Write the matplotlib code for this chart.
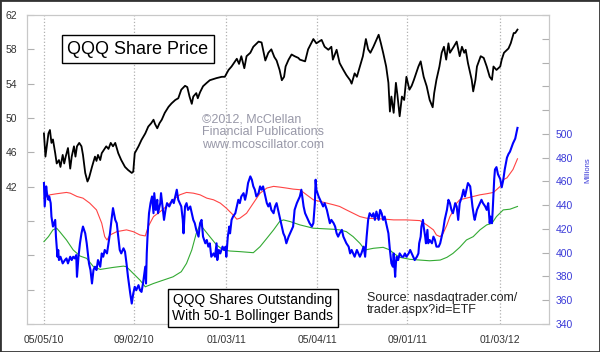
import matplotlib
matplotlib.use("Agg")
import matplotlib.pyplot as plt
import matplotlib.dates as mdates
import pandas as pd

plt.rcParams["font.family"] = ["Liberation Sans", "DejaVu Sans"]

start = pd.Timestamp("2010-05-05")

# QQQ share price (days after 05/05/10, price)
price_days = [0, 2, 6, 8, 10, 12, 15, 17, 20, 22,
              25, 27, 29, 32, 35, 37, 40, 42, 44, 47,
              50, 52, 55, 58, 60, 64, 68, 70, 72, 75,
              77, 80, 83, 86, 89, 92, 95, 99, 103, 108,
              112, 117, 119, 121, 126, 130, 135, 139, 143, 146,
              148, 151, 154, 157, 161, 166, 170, 175, 179, 183,
              188, 191, 194, 197, 199, 203, 205, 208, 212, 217,
              221, 230, 237, 241, 246, 250, 257, 260, 263, 267,
              270, 275, 279, 286, 290, 295, 299, 303, 307, 310,
              314, 317, 320, 322, 326, 330, 334, 339, 341, 348,
              352, 359, 363, 370, 374, 379, 383, 385, 390, 394,
              399, 403, 408, 410, 414, 417, 421, 425, 429, 432,
              435, 439, 446, 449, 452, 456, 459, 461, 463, 466,
              469, 471, 474, 477, 480, 483, 487, 490, 493, 499,
              502, 506, 510, 514, 518, 520, 523, 527, 530, 533,
              536, 539, 541, 546, 550, 554, 557, 560, 562, 565,
              568, 570, 572, 575, 577, 582, 586, 590, 594, 597,
              599, 603, 608, 610, 613, 619, 622, 626, 628, 631]
price = [48.2, 45.5, 48.2, 48.6, 47.1, 47.5, 45.9, 44.7, 45.1, 44.3,
         45.7, 44.7, 45.5, 46.5, 44.1, 45.5, 46.7, 45.5, 46.7, 47.1,
         46.7, 45.7, 43.6, 42.6, 43.0, 44.3, 45.5, 45.0, 45.7, 45.1,
         45.9, 46.3, 46.7, 46.4, 47.1, 46.7, 47.1, 45.9, 45.1, 44.3,
         43.95, 43.6, 43.75, 45.9, 46.7, 47.45, 48.2, 49.0, 49.4, 49.8,
         49.3, 48.8, 49.4, 49.8, 50.6, 51.3, 51.7, 52.1, 52.3, 53.3,
         53.75, 53.6, 52.5, 51.65, 52.5, 52.9, 52.3, 53.0, 53.7, 54.1,
         54.4, 54.65, 54.8, 54.8, 55.6, 56.0, 56.9, 56.3, 57.2, 55.8,
         57.2, 57.6, 58.3, 58.9, 58.8, 56.7, 57.6, 58.0, 57.1, 56.7,
         55.6, 54.4, 54.8, 56.0, 56.8, 57.4, 57.2, 57.0, 56.8, 56.6,
         58.0, 59.2, 58.7, 59.1, 58.3, 57.95, 58.3, 56.8, 57.95, 56.4,
         55.6, 55.0, 54.4, 54.0, 55.2, 54.8, 56.0, 57.2, 59.2, 58.0,
         57.6, 58.3, 59.7, 58.7, 57.6, 56.0, 54.1, 50.75, 52.5, 50.6,
         54.1, 52.7, 50.2, 52.5, 52.1, 54.8, 53.3, 53.75, 54.45, 56.0,
         56.6, 54.8, 53.7, 52.1, 51.25, 52.9, 54.45, 56.0, 57.6, 58.3,
         56.8, 58.7, 57.6, 58.3, 58.9, 57.2, 58.3, 57.6, 57.95, 56.4,
         55.2, 54.45, 53.1, 54.45, 56.0, 57.2, 57.0, 56.0, 54.8, 54.45,
         56.0, 55.6, 56.0, 56.8, 57.6, 58.1, 58.7, 59.9, 59.9, 60.3]

# QQQ shares outstanding, millions
shares_days = [0, 1, 3, 4, 6, 7, 9, 10, 12, 15,
               16, 18, 19, 20, 22, 25, 28, 30, 32, 35,
               37, 39, 41, 43, 44, 46, 48, 50, 52, 55,
               57, 58, 60, 62, 64, 66, 68, 70, 72, 75,
               77, 79, 81, 84, 86, 88, 90, 92, 95, 97,
               99, 101, 103, 106, 108, 110, 112, 115, 117, 119,
               121, 123, 126, 128, 130, 132, 135, 136, 137, 138,
               140, 142, 144, 146, 147, 149, 151, 152, 155, 156,
               158, 160, 162, 164, 167, 169, 171, 173, 175, 177,
               179, 181, 183, 185, 186, 188, 190, 192, 195, 197,
               199, 201, 203, 206, 208, 210, 212, 215, 217, 219,
               221, 223, 226, 228, 230, 231, 233, 235, 238, 240,
               242, 243, 245, 247, 248, 250, 252, 255, 257, 259,
               261, 263, 266, 268, 270, 272, 275, 277, 279, 281,
               283, 286, 288, 290, 292, 295, 297, 299, 301, 303,
               306, 308, 310, 312, 314, 317, 319, 321, 323, 326,
               328, 330, 332, 334, 337, 339, 341, 343, 346, 348,
               350, 352, 354, 357, 359, 361, 362, 363, 366, 368,
               370, 372, 374, 377, 379, 381, 383, 386, 388, 390,
               392, 394, 397, 399, 401, 403, 406, 408, 410, 412,
               414, 417, 419, 421, 423, 426, 428, 430, 432, 434,
               437, 439, 441, 443, 446, 448, 450, 452, 454, 457,
               459, 461, 463, 465, 466, 468, 469, 470, 472, 474,
               477, 479, 481, 483, 486, 488, 490, 492, 494, 497,
               499, 500, 502, 503, 505, 506, 508, 509, 511, 512,
               514, 517, 519, 521, 523, 526, 528, 530, 532, 534,
               537, 539, 541, 543, 545, 548, 550, 552, 554, 557,
               559, 561, 563, 565, 568, 569, 571, 573, 574, 577,
               579, 581, 583, 585, 588, 590, 592, 594, 595, 597,
               598, 600, 601, 603, 605, 608, 610, 612, 614, 617,
               619, 621, 625, 628, 630, 631]
shares = [458.6, 438.9, 455.8, 450.1, 444.5, 447.3, 441.7, 430.4, 422.0, 427.6,
          413.5, 396.6, 402.3, 393.8, 396.6, 391.0, 393.8, 395.2, 391.0, 396.6,
          393.8, 396.6, 395.2, 398.0, 379.7, 396.6, 407.9, 416.3, 422.0, 416.3,
          407.9, 402.3, 391.0, 385.4, 374.1, 385.4, 388.2, 385.4, 393.8, 388.2,
          399.4, 396.6, 402.3, 399.4, 407.9, 416.3, 427.6, 437.5, 427.6, 424.8,
          413.5, 402.3, 399.4, 403.7, 400.9, 391.0, 379.7, 365.6, 357.2, 365.6,
          371.3, 368.4, 372.7, 368.4, 367.0, 374.1, 388.2, 374.1, 399.4, 413.5,
          433.2, 441.7, 447.3, 433.2, 450.1, 436.0, 444.5, 433.2, 441.7, 450.1,
          438.9, 427.6, 436.0, 441.7, 438.9, 441.7, 444.5, 441.7, 447.3, 453.0,
          444.5, 441.7, 438.9, 427.6, 416.3, 438.9, 441.7, 436.0, 438.9, 433.2,
          427.6, 424.8, 419.2, 413.5, 424.8, 427.6, 413.5, 407.9, 410.7, 405.1,
          407.9, 396.6, 399.4, 396.6, 407.9, 393.8, 402.3, 399.4, 405.1, 402.3,
          405.1, 396.6, 413.5, 422.0, 416.3, 427.6, 430.4, 433.2, 438.9, 444.5,
          441.7, 447.3, 450.1, 444.5, 450.1, 458.6, 464.2, 461.4, 455.8, 453.0,
          447.3, 450.1, 455.8, 453.0, 455.8, 447.3, 441.7, 438.9, 441.7, 436.0,
          433.2, 438.9, 441.7, 436.0, 430.4, 422.0, 416.3, 413.5, 407.9, 413.5,
          416.3, 419.2, 422.0, 436.0, 441.7, 444.5, 447.3, 453.0, 438.9, 433.2,
          430.4, 427.6, 424.8, 422.0, 424.8, 441.7, 461.4, 453.0, 447.3, 444.5,
          441.7, 438.9, 441.7, 436.0, 430.4, 424.8, 427.6, 424.8, 422.0, 416.3,
          413.5, 416.3, 419.2, 413.5, 410.7, 407.9, 405.1, 399.4, 402.3, 399.4,
          396.6, 402.3, 399.4, 396.6, 399.4, 405.1, 396.6, 413.5, 427.6, 433.2,
          430.4, 433.2, 427.6, 434.6, 427.6, 436.0, 433.2, 427.6, 430.4, 422.0,
          416.3, 402.3, 391.0, 388.2, 399.4, 379.7, 391.0, 396.6, 393.8, 399.4,
          396.6, 396.6, 399.4, 396.6, 399.4, 402.3, 399.4, 396.6, 393.8, 396.6,
          399.4, 407.9, 413.5, 422.0, 427.6, 422.0, 413.5, 407.9, 419.2, 407.9,
          410.7, 407.9, 413.5, 410.7, 405.1, 405.1, 407.9, 413.5, 419.2, 427.6,
          436.0, 444.5, 441.7, 436.0, 433.2, 441.7, 438.9, 427.6, 441.7, 447.3,
          453.0, 447.3, 453.0, 458.6, 455.8, 450.1, 438.9, 430.4, 427.6, 436.0,
          438.9, 441.7, 444.5, 441.7, 438.9, 436.0, 441.7, 424.8, 430.4, 424.8,
          436.0, 462, 470, 472, 466, 462, 455, 461, 470, 480,
          483, 485, 492, 496, 502, 505]

# 50-1 Bollinger bands
upper_days = [0, 8, 17, 30, 35, 44, 52, 61, 70, 77,
              81, 84, 88, 97, 110, 119, 128, 135, 139, 146,
              155, 163, 172, 181, 190, 199, 208, 217, 226, 235,
              243, 252, 257, 261, 270, 279, 288, 297, 306, 314,
              323, 332, 341, 350, 359, 368, 377, 386, 394, 403,
              412, 421, 430, 448, 466, 483, 501, 510, 519, 523,
              528, 532, 537, 541, 546, 550, 554, 563, 572, 581,
              590, 599, 608, 612, 617, 625, 631]
upper = [445.9, 448.7, 449.6, 450.7, 450.1, 447.3, 445.9, 441.7, 436.0, 424.8,
         413.5, 410.7, 414.9, 417.7, 419.2, 417.7, 414.9, 414.1, 422.0, 430.4,
         434.6, 438.9, 444.5, 448.7, 450.7, 450.1, 448.7, 445.9, 444.5, 441.7,
         437.5, 431.8, 428.2, 429.0, 433.2, 441.7, 450.1, 454.4, 455.8, 455.2,
         454.4, 453.5, 453.0, 448.7, 444.5, 443.1, 441.7, 440.3, 438.9, 436.0,
         433.2, 430.4, 429.0, 428.5, 427.6, 427.6, 427.0, 423.4, 419.2, 414.9,
         413.5, 416.3, 423.4, 430.4, 436.0, 441.7, 444.5, 445.9, 447.3, 448.7,
         449.6, 450.7, 455.8, 461.4, 463, 470, 479]

lower_days = [0, 6, 12, 17, 21, 30, 39, 48, 57, 66,
              75, 92, 106, 110, 119, 128, 135, 146, 159, 172,
              183, 190, 197, 203, 208, 212, 221, 230, 239, 248,
              261, 279, 288, 297, 306, 314, 319, 328, 341, 350,
              359, 386, 394, 403, 412, 421, 428, 439, 452, 461,
              466, 474, 488, 501, 514, 528, 537, 545, 554, 563,
              572, 581, 590, 597, 603, 612, 621, 631]
lower = [409.3, 413.5, 419.2, 420.6, 417.7, 410.7, 402.3, 397.2, 395.2, 388.2,
         385.9, 387.6, 388.7, 388.2, 382.5, 376.9, 371.3, 374.1, 376.9, 379.7,
         384.0, 391.0, 402.3, 416.3, 423.4, 420.6, 413.5, 406.5, 402.3, 401.4,
         400.9, 400.0, 405.1, 412.1, 419.2, 426.2, 427.6, 426.2, 423.4, 422.0,
         420.6, 419.7, 419.2, 417.7, 413.5, 407.9, 402.3, 403.7, 404.5, 402.3,
         399.4, 396.1, 394.4, 393.8, 393.2, 393.8, 396.1, 399.4, 404.5, 410.7,
         413.5, 419.2, 423.4, 424.8, 430.4, 436.0, 436.6, 438.9]

tick_dates = ["2010-05-05", "2010-09-02", "2011-01-03",
              "2011-05-04", "2011-09-01", "2012-01-03"]


def to_dates(days):
    return start + pd.to_timedelta(days, unit="D")


fig = plt.figure(figsize=(6, 3.52), dpi=100)
ax = fig.add_axes([27 / 600, 28 / 352, 522 / 600, 309 / 352])
ax2 = ax.twinx()

ax.plot(to_dates(price_days), price, color="black", lw=1.3)
ax2.plot(to_dates(upper_days), upper, color="#ff4444", lw=0.8)
ax2.plot(to_dates(lower_days), lower, color="#33aa33", lw=0.8)
ax2.plot(to_dates(shares_days), shares, color="#0000ff", lw=1.5)

ax.set_xlim(pd.Timestamp("2010-04-12 10:00"), pd.Timestamp("2012-03-08"))
ax.set_xticks(pd.to_datetime(tick_dates))
ax.xaxis.set_major_formatter(mdates.DateFormatter("%m/%d/%y"))
ax.grid(axis="x", linestyle=":", color="#b0b0b0", lw=0.9)

left_ticks = list(range(26, 63, 4))
ax.set_ylim(26, 62)
ax.set_yticks(left_ticks)
ax.set_yticklabels([str(v) if v >= 42 else "" for v in left_ticks])

right_ticks = list(range(340, 601, 20))
ax2.set_ylim(340, 600)
ax2.set_yticks(right_ticks)
ax2.set_yticklabels([str(v) if v <= 500 else "" for v in right_ticks])

ax.tick_params(axis="y", direction="in", length=5, color="#b0b0b0",
               labelsize=7.5, labelcolor="#333333", pad=7)
ax.tick_params(axis="x", length=0, pad=8, labelsize=7.5, labelcolor="#333333")
ax2.tick_params(axis="y", direction="in", length=5, color="#b0b0b0",
                labelsize=7.5, labelcolor="#3a3ad8", pad=5)
for a in (ax, ax2):
    for s in a.spines.values():
        s.set_color("#c8c8c8")

fig.text(588 / 600, 1 - 170 / 352, "Millions", rotation=90, fontsize=5.5,
         color="#3a3ad8", ha="center", va="center")

fig.text(67 / 600, 1 - 49 / 352, "QQQ Share Price", fontsize=13,
         ha="left", va="center",
         bbox=dict(boxstyle="square,pad=0.3", fc="white", ec="black", lw=1))

fig.text(202 / 600, 1 - 132 / 352,
         "\u00a92012, McClellan\nFinancial Publications\nwww.mcoscillator.com",
         fontsize=9, color="#9898a8", ha="left", va="center", linespacing=1.1)

fig.text(253 / 600, 1 - 308 / 352,
         "QQQ Shares Outstanding\nWith 50-1 Bollinger Bands",
         fontsize=10, ha="center", va="center", linespacing=1.2,
         bbox=dict(boxstyle="square,pad=0.3", fc="white", ec="black", lw=1))

fig.text(367 / 600, 1 - 304 / 352, "Source: nasdaqtrader.com/\ntrader.aspx?id=ETF",
         fontsize=9, color="#222222", ha="left", va="center", linespacing=1.1)

fig.add_artist(plt.Rectangle((0, 0), 1, 1, transform=fig.transFigure,
                             fill=False, edgecolor="#333333", lw=2))

fig.savefig("out.png", dpi=100)
